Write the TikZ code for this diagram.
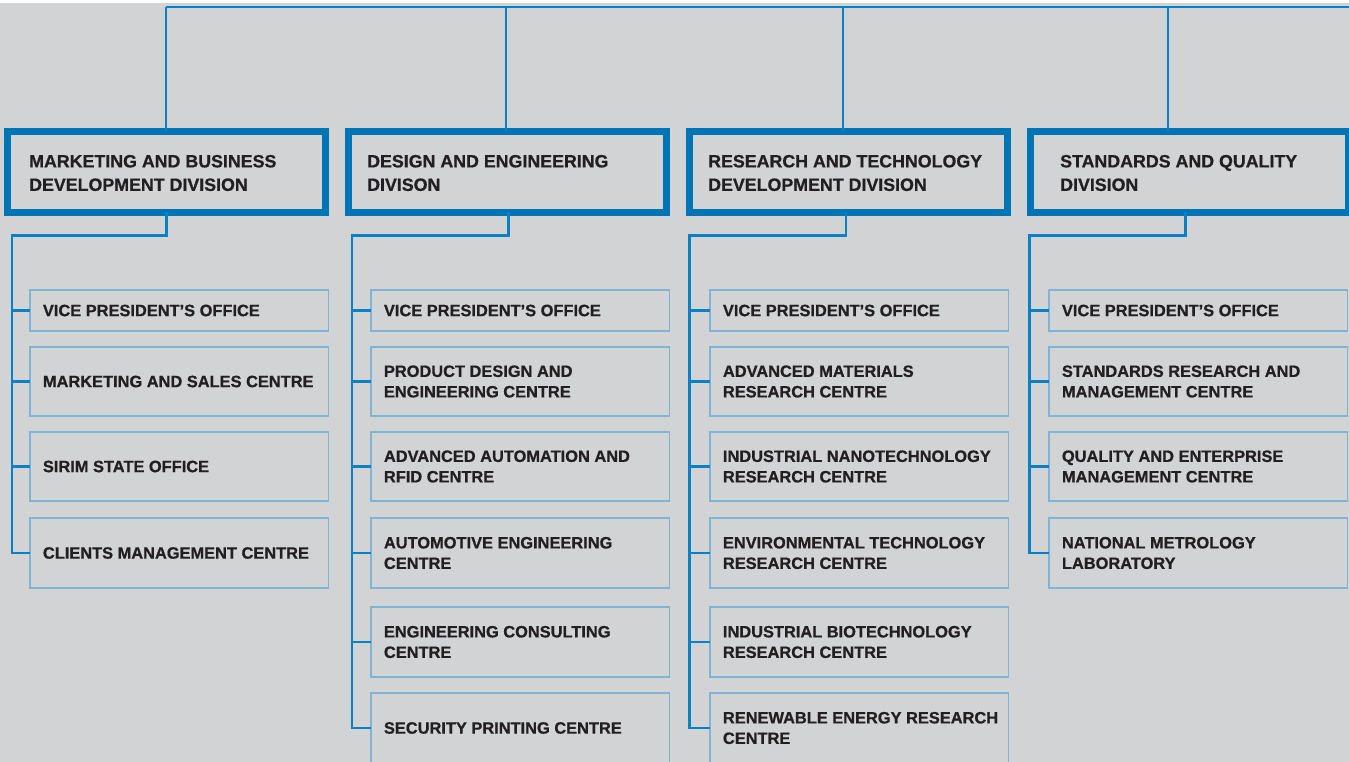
\documentclass[tikz,border=0pt]{standalone}
\usepackage{fontspec}
\setmainfont{Liberation Sans}[BoldFeatures={FakeBold=0.8}]
\definecolor{bg}{RGB}{209,211,213}
\definecolor{divblue}{RGB}{0,117,181}
\definecolor{connblue}{RGB}{12,128,196}
\definecolor{childblue}{RGB}{128,180,214}
\definecolor{txt}{RGB}{35,31,32}
\newcommand\mkchild[5]{%
  \node[childbox, minimum height=#4] (#1) at (#2,#3) {};
  \node[childtext] (#1t) at ([xshift=13]#1.west) {#5};}
\begin{document}
\begin{tikzpicture}[x=1pt,y=-1pt,
  divbox/.style={draw=divblue, line width=7, minimum width=318, minimum height=81,
    anchor=north west, inner sep=0, outer sep=0},
  childbox/.style={draw=childblue, line width=1.5, minimum width=298.5,
    anchor=north west, inner sep=0, outer sep=0},
  divtext/.style={anchor=west, align=left, inner sep=0, text=txt,
    font=\fontsize{17.8}{23.5}\selectfont\bfseries},
  childtext/.style={anchor=west, align=left, inner sep=0, text=txt,
    font=\fontsize{16.4}{20.5}\selectfont\bfseries},
  conn/.style={draw=connblue, line width=2.2}]
\useasboundingbox (0,0) rectangle (1349,762);
\fill[bg] (0,0) rectangle (1349,762);
\fill[white] (0,0) rectangle (1349,3);

% division boxes
\node[divbox] (d1) at (7.5,131.5) {};
\node[divbox] (d2) at (348.5,131.5) {};
\node[divbox] (d3) at (689.5,131.5) {};
\node[divbox] (d4) at (1030.5,131.5) {};
\node[divtext] (d1t) at ([xshift=21.5,yshift=-1]d1.west) {MARKETING AND BUSINESS\\DEVELOPMENT DIVISION};
\node[divtext] (d2t) at ([xshift=18.5,yshift=-1]d2.west) {DESIGN AND ENGINEERING\\DIVISON};
\node[divtext] (d3t) at ([xshift=18.5,yshift=-1]d3.west) {RESEARCH AND TECHNOLOGY\\DEVELOPMENT DIVISION};
\node[divtext] (d4t) at ([xshift=29.5,yshift=-1]d4.west) {STANDARDS AND QUALITY\\DIVISION};

% column 1
\mkchild{c11}{29.75}{290}{41}{VICE PRESIDENT’S OFFICE}
\mkchild{c12}{29.75}{347}{69}{MARKETING AND SALES CENTRE}
\mkchild{c13}{29.75}{432}{69}{SIRIM STATE OFFICE}
\mkchild{c14}{29.75}{518}{70}{CLIENTS MANAGEMENT CENTRE}
% column 2
\mkchild{c21}{370.75}{290}{41}{VICE PRESIDENT’S OFFICE}
\mkchild{c22}{370.75}{347}{69}{PRODUCT DESIGN AND\\ENGINEERING CENTRE}
\mkchild{c23}{370.75}{432}{69}{ADVANCED AUTOMATION AND\\RFID CENTRE}
\mkchild{c24}{370.75}{518}{70}{AUTOMOTIVE ENGINEERING\\CENTRE}
\mkchild{c25}{370.75}{607}{70}{ENGINEERING CONSULTING\\CENTRE}
\mkchild{c26}{370.75}{693}{70}{SECURITY PRINTING CENTRE}
% column 3
\mkchild{c31}{709.75}{290}{41}{VICE PRESIDENT’S OFFICE}
\mkchild{c32}{709.75}{347}{69}{ADVANCED MATERIALS\\RESEARCH CENTRE}
\mkchild{c33}{709.75}{432}{69}{INDUSTRIAL NANOTECHNOLOGY\\RESEARCH CENTRE}
\mkchild{c34}{709.75}{518}{70}{ENVIRONMENTAL TECHNOLOGY\\RESEARCH CENTRE}
\mkchild{c35}{709.75}{607}{70}{INDUSTRIAL BIOTECHNOLOGY\\RESEARCH CENTRE}
\mkchild{c36}{709.75}{693}{70}{RENEWABLE ENERGY RESEARCH\\CENTRE}
% column 4
\mkchild{c41}{1048.75}{290}{41}{VICE PRESIDENT’S OFFICE}
\mkchild{c42}{1048.75}{347}{69}{STANDARDS RESEARCH AND\\MANAGEMENT CENTRE}
\mkchild{c43}{1048.75}{432}{69}{QUALITY AND ENTERPRISE\\MANAGEMENT CENTRE}
\mkchild{c44}{1048.75}{518}{70}{NATIONAL METROLOGY\\LABORATORY}

% top bus
\coordinate (v1) at (166,7);
\coordinate (v2) at (506,7);
\coordinate (v3) at (843,7);
\coordinate (v4) at (1168,7);
\coordinate (topR) at (1349,7);
\draw[conn] (v1) -- (topR);
\draw[conn] (v1) -- (v1 |- d1.north);
\draw[conn] (v2) -- (v2 |- d2.north);
\draw[conn] (v3) -- (v3 |- d3.north);
\draw[conn] (v4) -- (v4 |- d4.north);

% elbows and trunks
\coordinate (e1) at (12,235.5);
\coordinate (e2) at (352,235.5);
\coordinate (e3) at (689.5,235.5);
\coordinate (e4) at (1029.5,235.5);
\draw[conn] (d1.south) |- (e1) |- (c14.west);
\draw[conn] ([xshift=1]d2.south) |- (e2) |- (c26.west);
\draw[conn] ([xshift=-2.5]d3.south) |- (e3) |- (c36.west);
\draw[conn] ([xshift=-4]d4.south) |- (e4) |- (c44.west);

% ticks
\foreach \c in {c11,c12,c13}{\draw[conn] (e1 |- \c.west) -- (\c.west);}
\foreach \c in {c21,c22,c23,c24,c25}{\draw[conn] (e2 |- \c.west) -- (\c.west);}
\foreach \c in {c31,c32,c33,c34,c35}{\draw[conn] (e3 |- \c.west) -- (\c.west);}
\foreach \c in {c41,c42,c43}{\draw[conn] (e4 |- \c.west) -- (\c.west);}
\end{tikzpicture}
\end{document}
